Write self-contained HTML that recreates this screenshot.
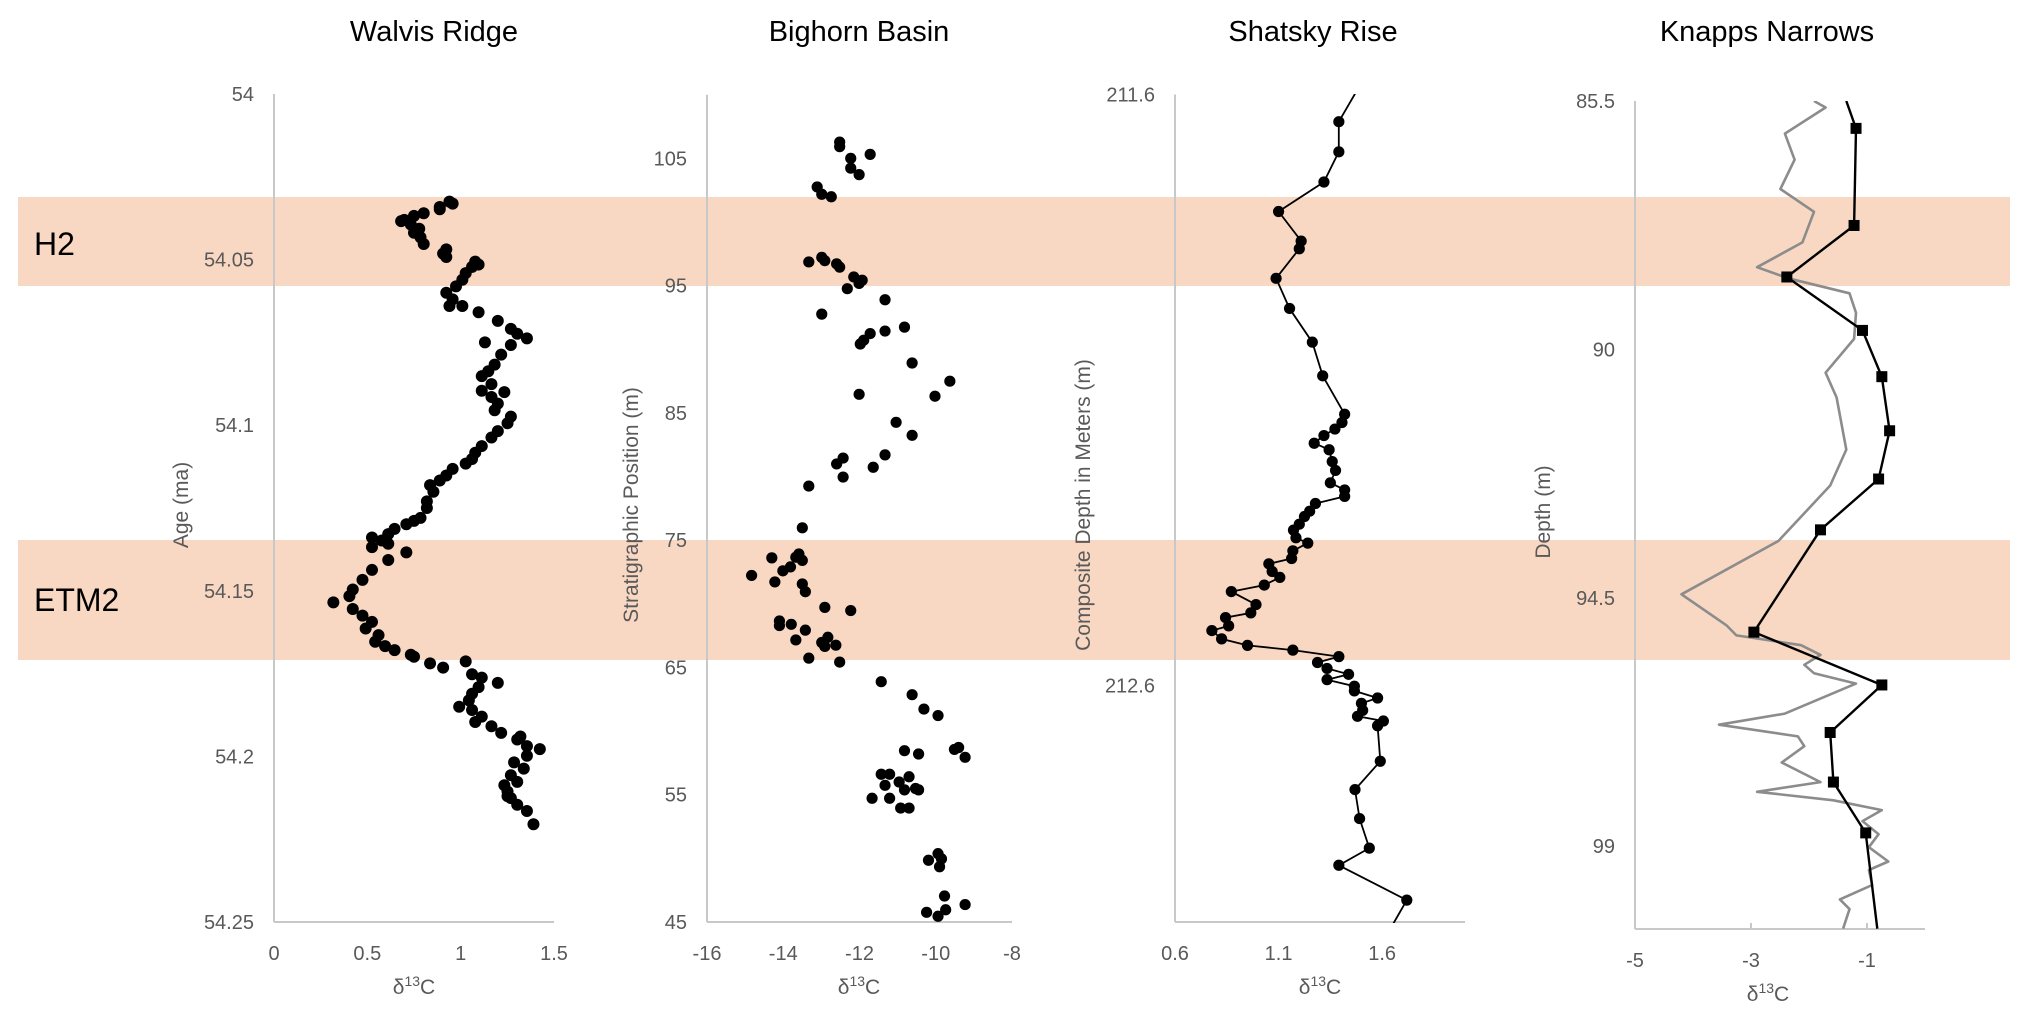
<!DOCTYPE html>
<html><head><meta charset="utf-8"><style>
html,body{margin:0;padding:0;background:#fff;}
svg{display:block;font-family:"Liberation Sans",sans-serif;}
.tick{fill:#595959;font-size:20px;}
.atitle{fill:#595959;font-size:21px;}
.title{fill:#000;font-size:29px;}
</style></head><body>
<svg id="chart" width="2027" height="1022" viewBox="0 0 2027 1022">
<g id="bands">
 <rect x="18" y="197" width="1992" height="89" fill="#f8d8c2"/>
 <rect x="18" y="540" width="1992" height="120" fill="#f8d8c2"/>
 <text x="34" y="255" font-size="32" fill="#000">H2</text>
 <text x="34" y="611" font-size="32" fill="#000">ETM2</text>
</g>
<defs>
 <clipPath id="clipS"><rect x="1174" y="94" width="292" height="829"/></clipPath>
 <clipPath id="clipK"><rect x="1635" y="101" width="292" height="828"/></clipPath>
</defs>
<g id="layer"></g>
</svg>
<script>
// Walvis Ridge
const walvisD13C=[0.957,0.888,0.888,0.802,0.750,0.698,0.681,0.733,0.778,0.750,0.785,0.802,0.923,0.906,0.923,1.078,1.061,1.027,1.009,0.975,0.923,0.957,0.940,1.009,1.096,1.199,1.269,1.303,1.355,1.269,1.217,1.182,1.148,1.113,1.165,1.113,1.165,1.199,1.182,1.269,1.251,1.199,1.165,1.113,1.078,1.061,1.027,0.957,0.923,0.888,0.836,0.854,0.819,0.819,0.785,0.750,0.709,0.646,0.612,0.525,0.577,0.525,0.612,0.709,0.612,0.525,0.474,0.422,0.404,0.318,0.422,0.474,0.525,0.491,0.560,0.542,0.595,0.646,0.733,0.750,0.836,0.906,1.027,1.061,1.113,1.199,1.096,1.061,1.044,0.992,1.061,1.113,1.078,1.165,1.217,1.303,1.355,1.424,1.355,1.286,1.338,1.269,1.303,1.234,1.251,1.269,1.303,1.355,1.390,0.940,1.096,1.130,1.234,1.320,1.251];
const walvisAge=[54.0331,54.0341,54.0348,54.0360,54.0368,54.0380,54.0384,54.0394,54.0407,54.0419,54.0433,54.0453,54.0469,54.0482,54.0492,54.0506,54.0522,54.0541,54.0561,54.0581,54.0600,54.0620,54.0640,54.0640,54.0659,54.0685,54.0709,54.0724,54.0738,54.0758,54.0787,54.0817,54.0837,54.0852,54.0876,54.0896,54.0915,54.0935,54.0955,54.0974,54.0994,54.1018,54.1037,54.1063,54.1083,54.1102,54.1116,54.1132,54.1152,54.1167,54.1181,54.1201,54.1230,54.1250,54.1280,54.1289,54.1299,54.1313,54.1329,54.1339,54.1348,54.1368,54.1358,54.1384,54.1407,54.1437,54.1467,54.1496,54.1516,54.1535,54.1555,54.1575,54.1594,54.1614,54.1634,54.1654,54.1667,54.1679,54.1693,54.1699,54.1719,54.1732,54.1713,54.1752,54.1762,54.1778,54.1791,54.1811,54.1831,54.1850,54.1860,54.1880,54.1896,54.1909,54.1929,54.1949,54.1969,54.1978,54.1998,54.2018,54.2037,54.2057,54.2077,54.2087,54.2106,54.2126,54.2146,54.2165,54.2205,54.0325,54.0515,54.0750,54.0900,54.1940,54.2120];
const walvisXTicks=[0,0.5,1,1.5];
const walvisYTicks=[54,54.05,54.1,54.15,54.2,54.25];
// Bighorn Basin
const bighornD13C=[-12.52,-12.52,-12.23,-11.72,-12.23,-12.01,-13.11,-12.99,-12.74,-13.33,-12.99,-12.91,-12.60,-12.52,-12.15,-11.93,-12.32,-12.01,-11.33,-12.99,-11.72,-11.33,-10.82,-11.98,-11.89,-10.62,-9.63,-12.01,-10.02,-11.04,-10.62,-11.33,-12.43,-12.60,-11.64,-12.43,-13.33,-13.50,-14.30,-14.83,-14.22,-14.01,-13.81,-13.59,-13.67,-13.50,-13.50,-13.42,-12.91,-12.23,-14.10,-14.10,-13.79,-13.42,-13.67,-12.99,-12.83,-12.62,-12.91,-13.33,-12.52,-11.43,-10.62,-10.31,-9.94,-9.51,-9.40,-9.23,-10.82,-10.45,-11.43,-11.21,-10.70,-11.33,-10.96,-10.53,-10.45,-11.21,-10.82,-11.67,-10.92,-10.70,-9.94,-10.19,-9.85,-9.90,-9.77,-9.23,-10.24,-9.74,-9.94];
const bighornPos=[106.28,105.92,105.00,105.31,104.23,103.72,102.75,102.18,101.98,96.86,97.22,96.96,96.71,96.45,95.68,95.42,94.76,95.17,93.89,92.76,91.23,91.43,91.74,90.41,90.71,88.92,87.49,86.46,86.31,84.26,83.24,81.70,81.45,80.99,80.73,79.96,79.25,75.97,73.61,72.23,71.72,72.59,72.90,73.92,73.66,73.41,71.56,70.95,69.72,69.47,68.65,68.29,68.39,67.93,67.16,66.96,67.37,66.75,66.65,65.73,65.42,63.88,62.86,61.73,61.22,58.56,58.71,57.94,58.46,58.20,56.61,56.61,56.41,55.74,56.00,55.49,55.38,54.72,55.38,54.72,53.95,53.95,50.37,49.85,49.96,49.34,47.04,46.37,45.76,45.96,45.45];
const bighornXTicks=[-16,-14,-12,-10,-8];
const bighornYTicks=[45,55,65,75,85,95,105];
// Shatsky Rise
const shatskyD13C=[1.600,1.391,1.391,1.319,1.100,1.209,1.200,1.088,1.153,1.263,1.313,1.419,1.406,1.372,1.319,1.272,1.344,1.359,1.375,1.350,1.419,1.419,1.278,1.250,1.225,1.200,1.172,1.184,1.241,1.169,1.163,1.053,1.069,1.106,1.031,0.872,0.991,0.966,0.844,0.859,0.778,0.825,0.950,1.169,1.391,1.288,1.334,1.438,1.334,1.466,1.466,1.578,1.500,1.506,1.481,1.606,1.578,1.591,1.469,1.491,1.538,1.391,1.719,1.560];
const shatskyDepth=[211.52,211.646,211.697,211.748,211.798,211.848,211.861,211.911,211.962,212.019,212.076,212.141,212.155,212.166,212.177,212.190,212.201,212.221,212.236,212.257,212.269,212.280,212.292,212.305,212.314,212.327,212.337,212.350,212.359,212.372,212.385,212.394,212.407,212.417,212.430,212.441,212.463,212.477,212.485,212.499,212.507,212.521,212.532,212.540,212.551,212.561,212.571,212.581,212.590,212.601,212.609,212.621,212.630,212.642,212.652,212.660,212.668,212.728,212.776,212.825,212.875,212.904,212.963,213.06];
const shatskyXTicks=[0.6,1.1,1.6];
const shatskyYTicks=[211.6,212.6];
// Knapps Narrows
const knappsBulkD13C=[-1.357,-1.189,-1.223,-2.382,-1.078,-0.744,-0.610,-0.800,-1.802,-2.950,-0.744,-1.635,-1.579,-1.022,-0.822];
const knappsBulkDepth=[85.5,85.996,87.755,88.688,89.656,90.494,91.474,92.348,93.269,95.122,96.079,96.940,97.838,98.759,100.494];
const knappsGrayD13C=[-1.914,-1.713,-2.415,-2.248,-2.493,-1.914,-2.114,-2.894,-2.359,-1.301,-1.189,-1.223,-1.713,-1.524,-1.357,-1.635,-2.526,-4.198,-3.418,-3.251,-2.136,-1.802,-2.081,-1.914,-1.189,-2.415,-3.552,-2.192,-2.081,-2.471,-1.802,-2.894,-1.579,-0.744,-1.078,-0.800,-0.967,-0.632,-0.967,-0.911,-1.468,-1.301,-1.412];
const knappsGrayDepth=[85.5,85.618,86.090,86.563,87.094,87.507,88.062,88.511,88.712,88.983,89.337,89.810,90.423,90.872,91.816,92.466,93.469,94.437,95.004,95.181,95.358,95.535,95.713,95.866,96.055,96.598,96.799,97.011,97.188,97.484,97.838,98.015,98.168,98.346,98.546,98.782,99.019,99.278,99.432,99.703,99.963,100.140,100.494];
const knappsXTicks=[-5,-3,-1];
const knappsYTicks=[85.5,90,94.5,99];

const NS='http://www.w3.org/2000/svg';
const layer=document.getElementById('layer');
function mk(tag,attrs,parent){const e=document.createElementNS(NS,tag);for(const k in attrs)e.setAttribute(k,attrs[k]);(parent||layer).appendChild(e);return e;}
function lin(d0,d1,r0,r1){return v=>r0+(v-d0)/(d1-d0)*(r1-r0);}

function panel(o){
  const g=mk('g',{});
  
  
  const xs=lin(o.xd[0],o.xd[1],o.x0,o.x1), ys=lin(o.yd[0],o.yd[1],o.y0,o.y1);
  const ax=mk('line',{x1:o.x0,y1:o.y0,x2:o.x0,y2:o.y1,stroke:'#c8c8c8','stroke-width':2},g);
  
  
  const bx=mk('line',{x1:o.x0,y1:o.y1,x2:o.x1,y2:o.y1,stroke:'#c8c8c8','stroke-width':2},g);
  
  
  o.xt.forEach(v=>{
    const t=mk('text',{x:xs(v),y:o.y1+38,'text-anchor':'middle',class:'tick'},g);t.textContent=v;
    
    
    if(o.tickMarks){const tm=mk('line',{x1:xs(v),y1:o.y1,x2:xs(v),y2:o.y1-6,stroke:'#c8c8c8','stroke-width':2},g);
      
      }
  });
  o.yt.forEach(v=>{
    const t=mk('text',{x:o.x0-20,y:ys(v)+7,'text-anchor':'end',class:'tick'},g);t.textContent=v;
    
    
  });
  const xt=mk('text',{x:o.xd2,y:o.y1+72,'text-anchor':'middle',class:'atitle'},g);
  xt.innerHTML='δ<tspan font-size="14" dy="-8">13</tspan><tspan dy="8">C</tspan>';
  
  
  const yt=mk('text',{x:0,y:0,'text-anchor':'middle',class:'atitle',transform:`translate(${o.ytx},${o.yty}) rotate(-90)`},g);
  yt.textContent=o.ytitle;
  
  
  const ti=mk('text',{x:o.tx,y:41,'text-anchor':'middle',class:'title'},g);ti.textContent=o.title;
  
  
  return {g,xs,ys};
}

// Walvis
let p=panel({name:'walvis-ridge',xd:[0,1.5],yd:[54,54.25],x0:274,x1:554,y0:94,y1:922,xt:walvisXTicks,yt:walvisYTicks,xd2:414,ytitle:'Age  (ma)',ytx:188,yty:505,tx:434,title:'Walvis Ridge'});
walvisD13C.forEach((v,i)=>{const c=mk('circle',{cx:p.xs(v),cy:p.ys(walvisAge[i]),r:6,fill:'#000'},p.g);
  
  });

// Bighorn
p=panel({name:'bighorn-basin',xd:[-16,-8],yd:[110,45],x0:707,x1:1012,y0:94.7,y1:922,xt:bighornXTicks,yt:bighornYTicks,xd2:859,ytitle:'Stratigraphic Position (m)',ytx:638,yty:505,tx:859,title:'Bighorn Basin'});
bighornD13C.forEach((v,i)=>{const c=mk('circle',{cx:p.xs(v),cy:p.ys(bighornPos[i]),r:5.6,fill:'#000'},p.g);
  
  });

// Shatsky
p=panel({name:'shatsky-rise',xd:[0.6,2.0],yd:[211.6,213.0],x0:1175,x1:1465,y0:94.5,y1:922,xt:shatskyXTicks,yt:shatskyYTicks,xd2:1320,ytitle:'Composite Depth in Meters (m)',ytx:1090,yty:505,tx:1313,title:'Shatsky Rise'});
{const gc=mk('g',{'clip-path':'url(#clipS)'},p.g);
 const pts=shatskyD13C.map((v,i)=>p.xs(v).toFixed(1)+','+p.ys(shatskyDepth[i]).toFixed(1)).join(' ');
 const l=mk('polyline',{points:pts,fill:'none',stroke:'#000','stroke-width':1.8},gc);
 
 
 shatskyD13C.forEach((v,i)=>{if(shatskyDepth[i]<211.6||shatskyDepth[i]>213)return;
  const c=mk('circle',{cx:p.xs(v),cy:p.ys(shatskyDepth[i]),r:5.6,fill:'#000'},gc);
  
  });}

// Knapps
p=panel({name:'knapps-narrows',xd:[-5,0],yd:[85.5,100.5],x0:1635,x1:1925,y0:101,y1:929,xt:knappsXTicks,yt:knappsYTicks,xd2:1768,ytitle:'Depth (m)',ytx:1550,yty:512,tx:1767,title:'Knapps Narrows',tickMarks:true});
{const gc=mk('g',{'clip-path':'url(#clipK)'},p.g);
 const gp=knappsGrayD13C.map((v,i)=>p.xs(v).toFixed(1)+','+p.ys(knappsGrayDepth[i]).toFixed(1)).join(' ');
 const l1=mk('polyline',{points:gp,fill:'none',stroke:'#8c8c8c','stroke-width':2.6,'stroke-linejoin':'round'},gc);
 
 
 const bp=knappsBulkD13C.map((v,i)=>p.xs(v).toFixed(1)+','+p.ys(knappsBulkDepth[i]).toFixed(1)).join(' ');
 const l2=mk('polyline',{points:bp,fill:'none',stroke:'#000','stroke-width':2.4},gc);
 
 
 knappsBulkD13C.forEach((v,i)=>{const d=knappsBulkDepth[i];if(d<=85.6||d>=100.4)return;
  const s=mk('rect',{x:p.xs(v)-5.5,y:p.ys(d)-5.5,width:11,height:11,fill:'#000'},gc);
  
  });}
</script>
</body></html>
